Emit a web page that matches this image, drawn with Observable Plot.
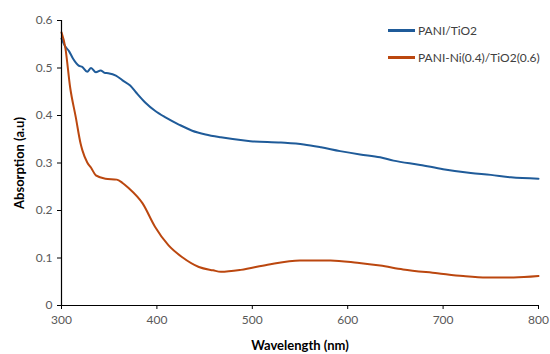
<!DOCTYPE html>
<html>
<head>
<meta charset="utf-8">
<script src="https://cdn.jsdelivr.net/npm/d3@7"></script>
<script src="https://cdn.jsdelivr.net/npm/@observablehq/plot@0.6"></script>
<style>
  html, body { margin: 0; padding: 0; background: #fff; }
  #wrap { position: relative; width: 550px; height: 354px; overflow: hidden; font-family: Lato, "Open Sans", sans-serif; }
  #legend { position: absolute; left: 388px; top: 23px; font-size: 12px; color: #404040; }
  #legend .item { display: flex; align-items: center; height: 14px; margin-bottom: 13px; }
  #legend .sw { width: 27px; height: 3px; margin-right: 3px; }
</style>
</head>
<body>
<div id="wrap"><div id="legend"></div></div>
<script>
const seriesNames = ["PANI/TiO2", "PANI-Ni(0.4)/TiO2(0.6)"];
const seriesColors = ["#1F5B99", "#BB470F"];

const blueWl  = [300,304,308,312,318,322,327,331,336,341,345,349,357,364,372,378,388,398,409,423,437,451,467,498,530,554,572,592,613,634,648,676,700,729,750,771,800];
const blueAbs = [0.562,0.545,0.535,0.52,0.505,0.502,0.492,0.5,0.491,0.495,0.49,0.489,0.484,0.474,0.463,0.449,0.427,0.41,0.396,0.381,0.368,0.36,0.354,0.346,0.343,0.339,0.333,0.325,0.318,0.312,0.305,0.296,0.287,0.279,0.275,0.27,0.267];

const orangeWl  = [300,304,309,315,320,322,327,331,336,346,358,364,370,385,398,412,427,444,459,467,488,516,550,582,610,634,658,694,721,746,774,800];
const orangeAbs = [0.575,0.543,0.46,0.396,0.341,0.326,0.301,0.29,0.274,0.267,0.265,0.258,0.248,0.215,0.166,0.127,0.101,0.081,0.074,0.071,0.075,0.086,0.095,0.095,0.09,0.084,0.076,0.068,0.062,0.059,0.059,0.062];

const xTicks = [300,400,500,600,700,800];
const yTicks = [0,0.1,0.2,0.3,0.4,0.5,0.6];

const data = [
  ...blueWl.map((w,i) => ({wl: w, abs: blueAbs[i], s: seriesNames[0]})),
  ...orangeWl.map((w,i) => ({wl: w, abs: orangeAbs[i], s: seriesNames[1]}))
];

const chart = Plot.plot({
  width: 550,
  height: 354,
  marginLeft: 61,
  marginRight: 12,
  marginTop: 20,
  marginBottom: 49,
  style: {fontFamily: "Lato, 'Open Sans', sans-serif", fontSize: "12px", background: "#fff"},
  x: {domain: [300, 800]},
  y: {domain: [0, 0.6]},
  color: {domain: seriesNames, range: seriesColors},
  marks: [
    Plot.line(data, {x: "wl", y: "abs", stroke: "s", strokeWidth: 2, curve: "monotone-x"}),
    Plot.ruleY([0], {stroke: "#000", strokeWidth: 1.2}),
    Plot.ruleX([300], {stroke: "#000", strokeWidth: 1.2}),
    Plot.axisX({ticks: xTicks, tickSize: 4, tickPadding: 6, stroke: "#000", fill: "#595959", fontSize: 12, label: null, tickFormat: d => String(d)}),
    Plot.axisY({ticks: yTicks, tickSize: 4, tickPadding: 5, stroke: "#000", fill: "#595959", fontSize: 12, label: null, tickFormat: d => d === 0 ? "0" : d.toFixed(1)}),
    Plot.axisX({ticks: [], label: "Wavelength (nm)", labelAnchor: "center", labelArrow: "none", labelOffset: 44, fontWeight: "bold", fontSize: 13, fill: "#000"}),
    Plot.axisY({ticks: [], label: "Absorption (a.u)", labelAnchor: "center", labelArrow: "none", labelOffset: 47, fontWeight: "bold", fontSize: 13, fill: "#000"})
  ]
});
document.getElementById("wrap").prepend(chart);

const legend = document.getElementById("legend");
seriesNames.forEach((n, i) => {
  const item = document.createElement("div");
  item.className = "item";
  const sw = document.createElement("span");
  sw.className = "sw";
  sw.style.background = seriesColors[i];
  const t = document.createElement("span");
  t.textContent = n;
  item.append(sw, t);
  legend.append(item);
});
</script>
</body>
</html>
